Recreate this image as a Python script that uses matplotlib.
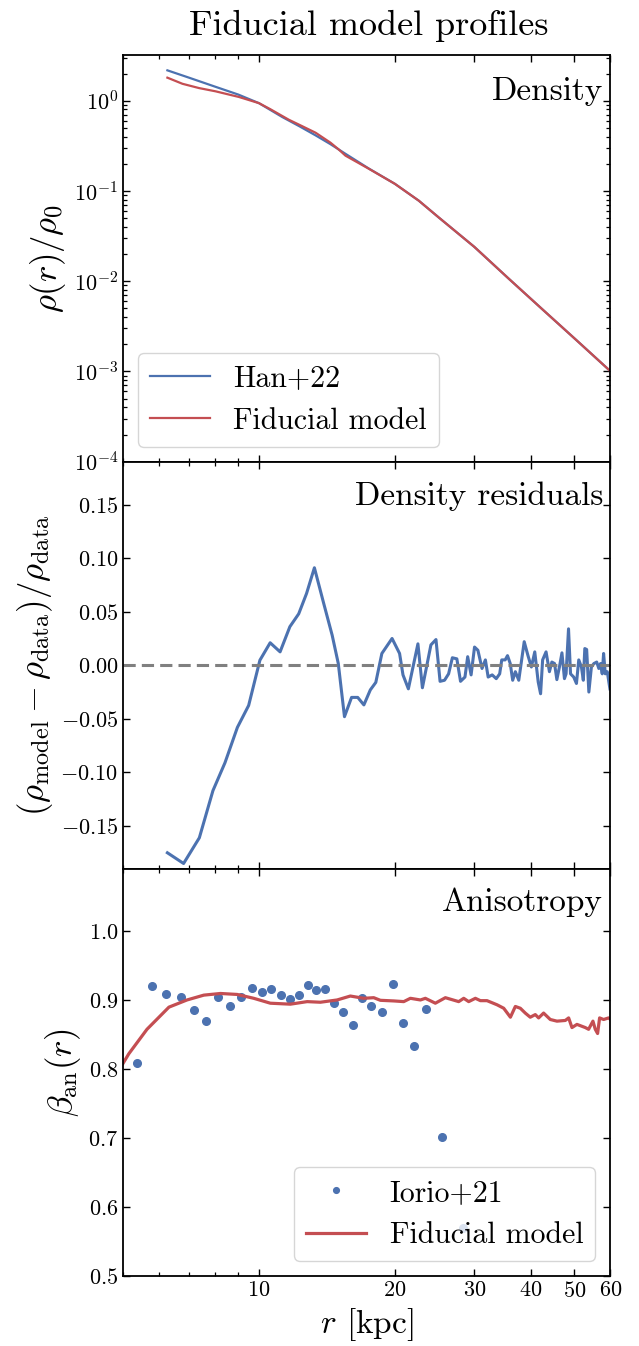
import matplotlib
matplotlib.use('Agg')
import matplotlib.pyplot as plt
from matplotlib.ticker import FixedLocator, NullFormatter, ScalarFormatter, MultipleLocator

plt.rcParams['font.family'] = 'serif'
plt.rcParams['font.serif'] = ['cmr10']
plt.rcParams['mathtext.fontset'] = 'cm'
plt.rcParams['axes.formatter.use_mathtext'] = True

BLUE = '#4C72B0'
RED = '#C44E52'

# density profile, Han+22 (data)
han_r = [6.27, 7.0, 8.0, 9.0, 10.0, 10.6, 11.26, 12.3, 13.35, 14.4, 15.55, 17.52, 20.0,
         22.6, 25.0, 30.0, 35.8, 42.6, 50.6, 60.0]
han_rho = [2.17, 1.80, 1.43, 1.17, 0.94, 0.79, 0.66, 0.52, 0.413, 0.330, 0.258, 0.177, 0.120,
           0.078, 0.051, 0.024, 0.0106, 0.0048, 0.0022, 0.00101]

# density profile, fiducial model
mod_r = [6.27, 6.77, 7.37, 8.02, 9.03, 10.0, 10.6, 11.65, 12.25, 13.35, 14.4, 15.0, 15.55,
         17.52, 20.0, 22.6, 25.0, 30.0, 35.8, 42.6, 50.6, 60.0]
mod_rho = [1.80, 1.54, 1.38, 1.27, 1.10, 0.94, 0.805, 0.615, 0.545, 0.442, 0.343, 0.290, 0.246,
           0.176, 0.120, 0.078, 0.051, 0.024, 0.0106, 0.0048, 0.0022, 0.00101]

# density residuals
res_r = [6.27, 6.81, 7.38, 7.91, 8.41, 8.96, 9.49, 10.05, 10.59, 11.14, 11.71, 12.25, 12.75,
         13.27, 13.91, 14.53, 14.99, 15.47, 16.04, 16.55, 17.08, 17.65, 18.15, 18.72, 19.72,
         20.49, 20.85, 21.43, 22.50, 23.02, 24.04, 24.67, 25.19, 25.77, 26.31, 26.82, 27.44,
         27.96, 28.60, 29.00, 29.51, 30.03, 30.55, 31.20, 31.74, 32.19, 32.86, 33.55, 34.14,
         34.50, 35.11, 35.53, 36.03, 36.48, 36.98, 37.63, 38.69, 39.44, 40.13, 40.83, 41.55,
         42.06, 42.50, 43.25, 44.0, 44.55, 45.16, 45.7, 46.3, 46.9, 47.5, 47.9, 48.5, 49.0,
         49.8, 50.5, 51.1, 51.8, 52.3, 52.7, 53.2, 53.8, 54.5, 55.2, 56.0, 56.6, 57.1, 57.6,
         58.0, 58.5, 59.1, 59.9]
res = [-0.175, -0.185, -0.161, -0.117, -0.091, -0.058, -0.0375, 0.0047, 0.021, 0.0125, 0.036,
       0.048, 0.067, 0.091, 0.058, 0.028, 0.0016, -0.048, -0.030, -0.030, -0.037, -0.023,
       -0.016, 0.011, 0.025, 0.011, -0.009, -0.022, 0.020, -0.021, 0.019, 0.024, -0.015,
       -0.014, -0.008, 0.007, 0.006, -0.015, -0.011, 0.008, -0.009, 0.017, 0.014, -0.003,
       0.005, -0.011, -0.009, -0.0125, -0.008, 0.005, 0.005, 0.009, 0.0016, -0.014, -0.006,
       -0.014, 0.022, 0.009, -0.0016, 0.0125, -0.0156, -0.0266, 0.005, 0.0125, -0.006, 0.003,
       0.0016, -0.0134, -0.0016, 0.0116, -0.0125, -0.008, 0.034, -0.008, -0.011, -0.017,
       0.005, -0.0016, -0.014, 0.0156, 0.0147, -0.025, -0.0016, 0.0016, 0.003, -0.003,
       0.0016, -0.008, 0.011, -0.008, -0.006, -0.022]

# anisotropy, Iorio+21 (data)
iorio_r = [5.37, 5.79, 6.23, 6.71, 7.18, 7.65, 8.12, 8.64, 9.12, 9.63, 10.14, 10.65, 11.18,
           11.69, 12.27, 12.84, 13.39, 14.03, 14.70, 15.38, 16.12, 16.90, 17.71, 18.73, 19.82,
           20.88, 22.07, 23.50, 25.38, 28.3]
iorio_beta = [0.808, 0.920, 0.909, 0.904, 0.886, 0.870, 0.904, 0.891, 0.904, 0.918, 0.912,
              0.916, 0.907, 0.902, 0.907, 0.921, 0.914, 0.916, 0.896, 0.882, 0.864, 0.903,
              0.891, 0.882, 0.923, 0.867, 0.834, 0.887, 0.702, 0.570]

# anisotropy, fiducial model
beta_r = [5.0, 5.15, 5.65, 6.32, 6.93, 7.55, 8.22, 8.95, 9.74, 10.6, 11.74, 12.79, 13.68,
          14.90, 15.94, 17.07, 17.96, 18.58, 19.89, 20.93, 21.65, 22.79, 23.37, 24.59, 25.88,
          27.70, 28.42, 29.15, 30.16, 30.94, 32.0, 33.69, 34.85, 36.06, 36.98, 37.93, 38.9,
          39.9, 40.94, 41.64, 42.71, 44.19, 45.72, 47.71, 48.53, 49.36, 50.63, 52.83, 53.73,
          54.93, 55.59, 56.25, 56.83, 58.0, 59.5, 60.0]
beta_mod = [0.808, 0.822, 0.8575, 0.8896, 0.900, 0.907, 0.9094, 0.908, 0.9024, 0.8953,
            0.8939, 0.8976, 0.8967, 0.900, 0.9057, 0.9024, 0.9033, 0.8995, 0.8986, 0.8976,
            0.9024, 0.900, 0.9024, 0.8953, 0.9033, 0.8976, 0.9024, 0.8976, 0.9024, 0.899,
            0.899, 0.893, 0.888, 0.875, 0.8906, 0.888, 0.881, 0.875, 0.8788, 0.874, 0.881,
            0.8717, 0.8693, 0.8703, 0.874, 0.860, 0.8646, 0.860, 0.8575, 0.8693, 0.8575,
            0.8514, 0.874, 0.8717, 0.874, 0.872]


fig, axes = plt.subplots(3, 1, sharex=True, figsize=(6.39, 13.46), dpi=100)
fig.subplots_adjust(left=0.1925, right=0.955, top=0.9595, bottom=0.052, hspace=0)
ax1, ax2, ax3 = axes

ax1.plot(han_r, han_rho, color=BLUE, lw=1.6, label='Han+22')
ax1.plot(mod_r, mod_rho, color=RED, lw=1.6, label='Fiducial model')
ax1.set_yscale('log')
ax1.set_ylim(1e-4, 3.25)
ax1.set_ylabel(r'$\rho(r)/\rho_0$', fontsize=25)
ax1.legend(loc='lower left', fontsize=21.5)
ax1.text(0.985, 0.945, 'Density', transform=ax1.transAxes, ha='right', va='top', fontsize=24)

ax2.plot(res_r, res, color=BLUE, lw=2.2)
ax2.axhline(0, color='gray', lw=2.2, dashes=(4, 2))
ax2.set_ylim(-0.19, 0.19)
ax2.yaxis.set_major_locator(MultipleLocator(0.05))
ax2.set_ylabel(r'$(\rho_{\rm model}-\rho_{\rm data})/\rho_{\rm data}$', fontsize=25)
ax2.text(0.985, 0.951, 'Density residuals', transform=ax2.transAxes, ha='right', va='top', fontsize=24)

ax3.plot(iorio_r, iorio_beta, 'o', color=BLUE, ms=5.5, label='Iorio+21')
ax3.plot(beta_r, beta_mod, color=RED, lw=2.3, label='Fiducial model')
ax3.set_ylim(0.5, 1.09)
ax3.yaxis.set_major_locator(MultipleLocator(0.1))
ax3.set_ylabel(r'$\beta_{\rm an}(r)$', fontsize=25)
ax3.legend(loc='lower right', fontsize=21.5, markerscale=0.75)
ax3.text(0.985, 0.954, 'Anisotropy', transform=ax3.transAxes, ha='right', va='top', fontsize=24)

ax3.set_xscale('log')
ax3.set_xlim(5, 60)
ax3.xaxis.set_major_locator(FixedLocator([10, 20, 30, 40, 50, 60]))
ax3.xaxis.set_major_formatter(ScalarFormatter())
ax3.xaxis.set_minor_locator(FixedLocator([5, 6, 7, 8, 9]))
ax3.xaxis.set_minor_formatter(NullFormatter())
ax3.set_xlabel(r'$r$ [kpc]', fontsize=24)

for ax in axes:
    ax.tick_params(which='both', direction='in', top=True, right=True, labelsize=16)
    ax.tick_params(which='major', length=5, width=1.0)
    ax.tick_params(which='minor', length=3, width=0.9)
    for s in ax.spines.values():
        s.set_linewidth(1.3)

fig.text(0.5765, 1 - 35 / 1346, 'Fiducial model profiles', ha='center', va='baseline', fontsize=26)

fig.savefig('out.png', dpi=100)
